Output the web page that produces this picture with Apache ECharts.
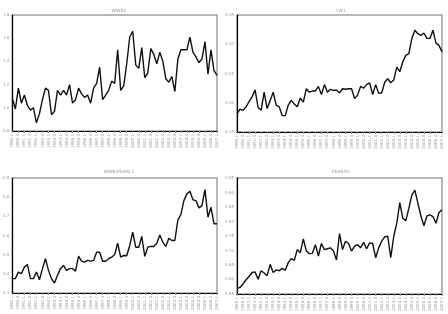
<!DOCTYPE html>
<html>
<head>
<meta charset="utf-8">
<script src="https://cdn.jsdelivr.net/npm/echarts@6/dist/echarts.min.js"></script>
<style>
  html, body { margin: 0; padding: 0; background: #fff; }
  #main { width: 448px; height: 314px; }
</style>
</head>
<body>
<div id="main"></div>
<script>
// panel titles
var titles = ["WWB1", "LW1", "WWB/PEARL2", "PEARSO"];

// quarterly labels
var quarters = [];
for (var y = 1990; y < 2008; y++) {
    for (var q = 1; q <= 4; q++) quarters.push(y + ":" + q);
}

var wwb1 = [1.08, 0.99, 1.17, 1.04, 1.11, 1.02, 0.98, 1.00, 0.87, 0.95,
    1.07, 1.17, 1.15, 0.94, 0.97, 1.15, 1.11, 1.15, 1.11, 1.20,
    1.04, 1.07, 1.17, 1.12, 1.09, 1.11, 1.04, 1.17, 1.21, 1.35,
    1.07, 1.11, 1.15, 1.23, 1.21, 1.50, 1.15, 1.19, 1.38, 1.61,
    1.66, 1.37, 1.34, 1.52, 1.26, 1.30, 1.51, 1.46, 1.38, 1.48,
    1.40, 1.25, 1.22, 1.27, 1.14, 1.42, 1.50, 1.50, 1.50, 1.61,
    1.48, 1.44, 1.39, 1.42, 1.57, 1.29, 1.50, 1.32, 1.28];

var lw1 = [0.181, 0.189, 0.187, 0.193, 0.202, 0.210, 0.222, 0.192, 0.187, 0.218,
    0.190, 0.204, 0.218, 0.196, 0.193, 0.178, 0.178, 0.196, 0.204, 0.198,
    0.193, 0.208, 0.201, 0.224, 0.218, 0.220, 0.220, 0.228, 0.214, 0.231,
    0.218, 0.223, 0.221, 0.222, 0.217, 0.224, 0.223, 0.224, 0.224, 0.207,
    0.213, 0.228, 0.225, 0.231, 0.234, 0.214, 0.231, 0.216, 0.217, 0.235,
    0.241, 0.234, 0.239, 0.261, 0.253, 0.270, 0.281, 0.284, 0.310, 0.324,
    0.318, 0.315, 0.319, 0.310, 0.310, 0.324, 0.302, 0.298, 0.287];

var wwbPearl2 = [0.375, 0.375, 0.409, 0.401, 0.435, 0.449, 0.375, 0.375, 0.409, 0.369,
    0.427, 0.479, 0.418, 0.375, 0.352, 0.392, 0.427, 0.444, 0.418, 0.427,
    0.427, 0.414, 0.492, 0.466, 0.461, 0.470, 0.466, 0.470, 0.513, 0.513,
    0.466, 0.466, 0.479, 0.487, 0.501, 0.560, 0.487, 0.496, 0.494, 0.548,
    0.617, 0.539, 0.539, 0.595, 0.491, 0.539, 0.543, 0.543, 0.560, 0.603,
    0.565, 0.543, 0.586, 0.574, 0.574, 0.682, 0.709, 0.782, 0.817, 0.831,
    0.786, 0.782, 0.744, 0.756, 0.839, 0.695, 0.747, 0.661, 0.661];

var pearso = [0.570, 0.572, 0.584, 0.599, 0.610, 0.624, 0.626, 0.601, 0.630, 0.622,
    0.613, 0.652, 0.624, 0.633, 0.630, 0.638, 0.632, 0.658, 0.672, 0.666,
    0.703, 0.692, 0.740, 0.698, 0.689, 0.690, 0.720, 0.681, 0.724, 0.703,
    0.706, 0.709, 0.698, 0.667, 0.758, 0.703, 0.732, 0.724, 0.698, 0.715,
    0.720, 0.709, 0.728, 0.706, 0.726, 0.724, 0.675, 0.709, 0.732, 0.747,
    0.749, 0.675, 0.749, 0.794, 0.865, 0.811, 0.803, 0.845, 0.891, 0.908,
    0.863, 0.819, 0.785, 0.819, 0.823, 0.817, 0.794, 0.831, 0.840];

var allData = [wwb1, lw1, wwbPearl2, pearso];
var yRanges = [[0.8, 1.8, 0.2], [0.15, 0.35, 0.05], [0.3, 0.9, 0.1], [0.55, 0.95, 0.05]];
var yDigits = [1, 2, 1, 2];

var grids = [
    {left: 12, top: 15, width: 205, height: 116},
    {left: 237, top: 15, width: 205, height: 117},
    {left: 12, top: 178, width: 205, height: 115},
    {left: 237, top: 178, width: 205, height: 117}
];
var titlePos = [[114, 3], [336, 3], [114, 164], [336, 164]];

var dom = document.getElementById("main");
var myChart = echarts.init(dom);
var option = {
    animation: false,
    backgroundColor: '#fff',
    title: [],
    grid: [],
    xAxis: [],
    yAxis: [],
    series: []
};

for (var i = 0; i < 4; i++) {
    var g = grids[i];
    option.title.push({
        text: titles[i],
        left: titlePos[i][0],
        top: titlePos[i][1],
        textAlign: 'center',
        textStyle: {color: '#999', fontSize: 4.5, fontWeight: 'normal', fontFamily: 'DejaVu Sans'}
    });
    option.grid.push({
        left: g.left, top: g.top, width: g.width, height: g.height,
        show: true, borderColor: '#a0a0a0', borderWidth: 1.5
    });
    var n = allData[i].length;
    option.xAxis.push({
        type: 'category',
        gridIndex: i,
        boundaryGap: false,
        data: quarters.slice(0, n),
        axisLine: {lineStyle: {color: '#000', width: 1.2}},
        axisTick: {show: true, interval: 1, length: 2, lineStyle: {color: '#999'}},
        axisLabel: {interval: 1, rotate: 90, fontSize: 4, color: '#999', margin: 3, fontFamily: 'DejaVu Sans'},
        splitLine: {show: false}
    });
    (function (d) {
        option.yAxis.push({
            type: 'value',
            gridIndex: i,
            min: yRanges[i][0],
            max: yRanges[i][1],
            interval: yRanges[i][2],
            axisLine: {show: true, lineStyle: {color: '#000', width: 1.2}},
            axisTick: {show: false},
            axisLabel: {fontSize: 4, color: '#999', margin: 3, fontFamily: 'DejaVu Sans',
                formatter: function (v) { return v.toFixed(d); }},
            splitLine: {show: false}
        });
    })(yDigits[i]);
    option.series.push({
        type: 'line',
        xAxisIndex: i,
        yAxisIndex: i,
        data: allData[i],
        symbol: 'none',
        lineStyle: {color: '#111', width: 1.4}
    });
}

myChart.setOption(option);
</script>
</body>
</html>
